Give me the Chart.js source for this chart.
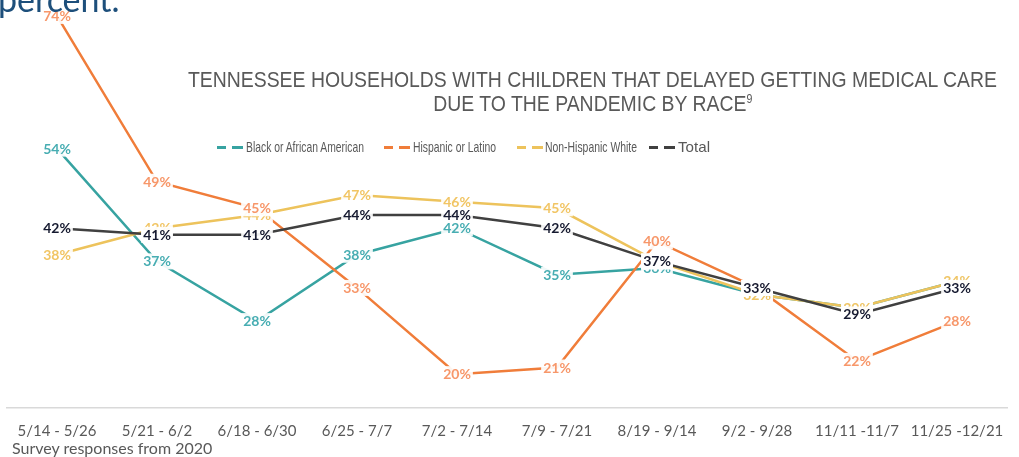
<!DOCTYPE html>
<html>
<head>
<meta charset="utf-8">
<script src="https://cdn.jsdelivr.net/npm/chart.js@4.4.1/dist/chart.umd.min.js"></script>
<style>
  html, body { margin: 0; padding: 0; background: #ffffff; overflow: hidden; }
  #wrap { position: relative; width: 1019px; height: 457px; overflow: hidden; }
  #c { position: absolute; left: 0; top: 0; }
  .ov { position: absolute; white-space: nowrap; }
  #pct { left: -2px; top: -18px; font-family: Lato, "Open Sans", sans-serif; font-size: 34px; line-height: 34px; color: #1d4f7b; }
  #title { left: 0; width: 1019px; top: 68px; font-family: "Liberation Sans", Arial, sans-serif; font-size: 22px; line-height: 24px; color: #595959; }
  #title div { position: absolute; white-space: nowrap; }
  #title sup { font-size: 12px; vertical-align: 8px; line-height: 0; }
  .lg { position: absolute; top: 138px; height: 18px; font-family: "Liberation Sans", Arial, sans-serif; font-size: 15px; line-height: 18px; color: #595959; white-space: nowrap; transform-origin: 0 50%; }
  .sw { position: absolute; top: 146px; height: 3px; }
  #survey { left: 12px; top: 439px; font-family: Lato, "Open Sans", sans-serif; font-size: 16px; line-height: 18px; color: #595959; }
</style>
</head>
<body>
<div id="wrap">
  <canvas id="c" width="1019" height="457"></canvas>
  <div class="ov" id="pct">percent.</div>
  <div class="ov" id="title">
    <div id="t1">TENNESSEE HOUSEHOLDS WITH CHILDREN THAT DELAYED GETTING MEDICAL CARE</div>
    <div id="t2" style="top:24px">DUE TO THE PANDEMIC BY RACE<sup>9</sup></div>
  </div>
  <div id="legend"></div>
  <div class="ov" id="survey">Survey responses from 2020</div>
</div>
<script>
const categories = ["5/14 - 5/26", "5/21 - 6/2", "6/18 - 6/30", "6/25 - 7/7", "7/2 - 7/14", "7/9 - 7/21", "8/19 - 9/14", "9/2 - 9/28", "11/11 -11/7", "11/25 -12/21"];
const seriesNames = ["Black or African American", "Hispanic or Latino", "Non-Hispanic White", "Total"];
const blackValues = [54, 37, 28, 38, 42, 35, 36, 32, 30, 34];
const hispanicValues = [74, 49, 45, 33, 20, 21, 40, 33, 22, 28];
const whiteValues = [38, 42, 44, 47, 46, 45, 37, 32, 30, 34];
const totalValues = [42, 41, 41, 44, 44, 42, 37, 33, 29, 33];

const lineColors = ["#37a3a1", "#f07d3a", "#edc35c", "#404040"];
const labelColors = ["#47adb2", "#f7976a", "#f1c564", "#161a30"];
const allValues = [blackValues, hispanicValues, whiteValues, totalValues];
const labelDrawOrder = [0, 2, 1, 3];

// Title scaling to match condensed look
(function () {
  const t1 = document.getElementById('t1');
  const t2 = document.getElementById('t2');
  const cx = 592.5;
  const w1 = t1.getBoundingClientRect().width;
  const s = 809 / w1;
  [t1, t2].forEach(el => {
    const w = el.getBoundingClientRect().width;
    el.style.left = (cx - w / 2) + 'px';
    el.style.transformOrigin = (w / 2) + 'px 50%';
    el.style.transform = 'scaleX(' + s + ')';
  });
})();

// Legend (layout only)
(function () {
  const lg = document.getElementById('legend');
  const items = [
    { sw: 217, tx: 246, tw: 118 },
    { sw: 384, tx: 413, tw: 83 },
    { sw: 517, tx: 545, tw: 92 },
    { sw: 649, tx: 678, tw: 32 }
  ];
  items.forEach((it, i) => {
    const d1 = document.createElement('div');
    d1.className = 'sw';
    d1.style.left = it.sw + 'px'; d1.style.width = '9px'; d1.style.background = lineColors[i];
    const d2 = document.createElement('div');
    d2.className = 'sw';
    d2.style.left = (it.sw + 15) + 'px'; d2.style.width = '11px'; d2.style.background = lineColors[i];
    const t = document.createElement('div');
    t.className = 'lg';
    t.textContent = seriesNames[i];
    t.style.left = it.tx + 'px';
    lg.appendChild(d1); lg.appendChild(d2); lg.appendChild(t);
    const w = t.getBoundingClientRect().width;
    t.style.transform = 'scaleX(' + (it.tw / w) + ')';
  });
})();

const labelPlugin = {
  id: 'pointLabels',
  afterDatasetsDraw(chart) {
    const ctx = chart.ctx;
    ctx.save();
    ctx.font = 'bold 14px Lato, "Open Sans", sans-serif';
    ctx.textAlign = 'center';
    ctx.textBaseline = 'middle';
    labelDrawOrder.forEach(di => {
      const ds = chart.data.datasets[di];
      const meta = chart.getDatasetMeta(di);
      meta.data.forEach((pt, i) => {
        const txt = ds.data[i] + '%';
        const w = ctx.measureText(txt).width;
        ctx.fillStyle = 'rgba(255,255,255,0.92)';
        ctx.fillRect(pt.x - w / 2 - 2, pt.y - 8, w + 4, 16);
        ctx.fillStyle = labelColors[di];
        ctx.fillText(txt, pt.x, pt.y + 0.5);
      });
    });
    ctx.restore();
  }
};

new Chart(document.getElementById('c'), {
  type: 'line',
  data: {
    labels: categories,
    datasets: allValues.map((vals, i) => ({
      label: seriesNames[i],
      data: vals,
      borderColor: lineColors[i],
      backgroundColor: lineColors[i],
      borderWidth: 2.5,
      pointRadius: 0,
      tension: 0,
      fill: false,
      order: 4 - i
    }))
  },
  options: {
    responsive: false,
    animation: false,
    devicePixelRatio: 1,
    layout: { padding: { left: 7, right: 12, top: 0, bottom: 3 } },
    plugins: { legend: { display: false }, title: { display: false }, tooltip: { enabled: false } },
    scales: {
      x: {
        offset: true,
        grid: { display: false, drawTicks: false },
        border: { display: true, color: '#d9d9d9', width: 1.5 },
        ticks: { color: '#595959', font: { family: 'Lato, "Open Sans", sans-serif', size: 15 }, padding: 14, maxRotation: 0, autoSkip: false }
      },
      y: {
        display: false,
        min: 14.9,
        max: 76.4
      }
    }
  },
  plugins: [labelPlugin]
});
</script>
</body>
</html>
